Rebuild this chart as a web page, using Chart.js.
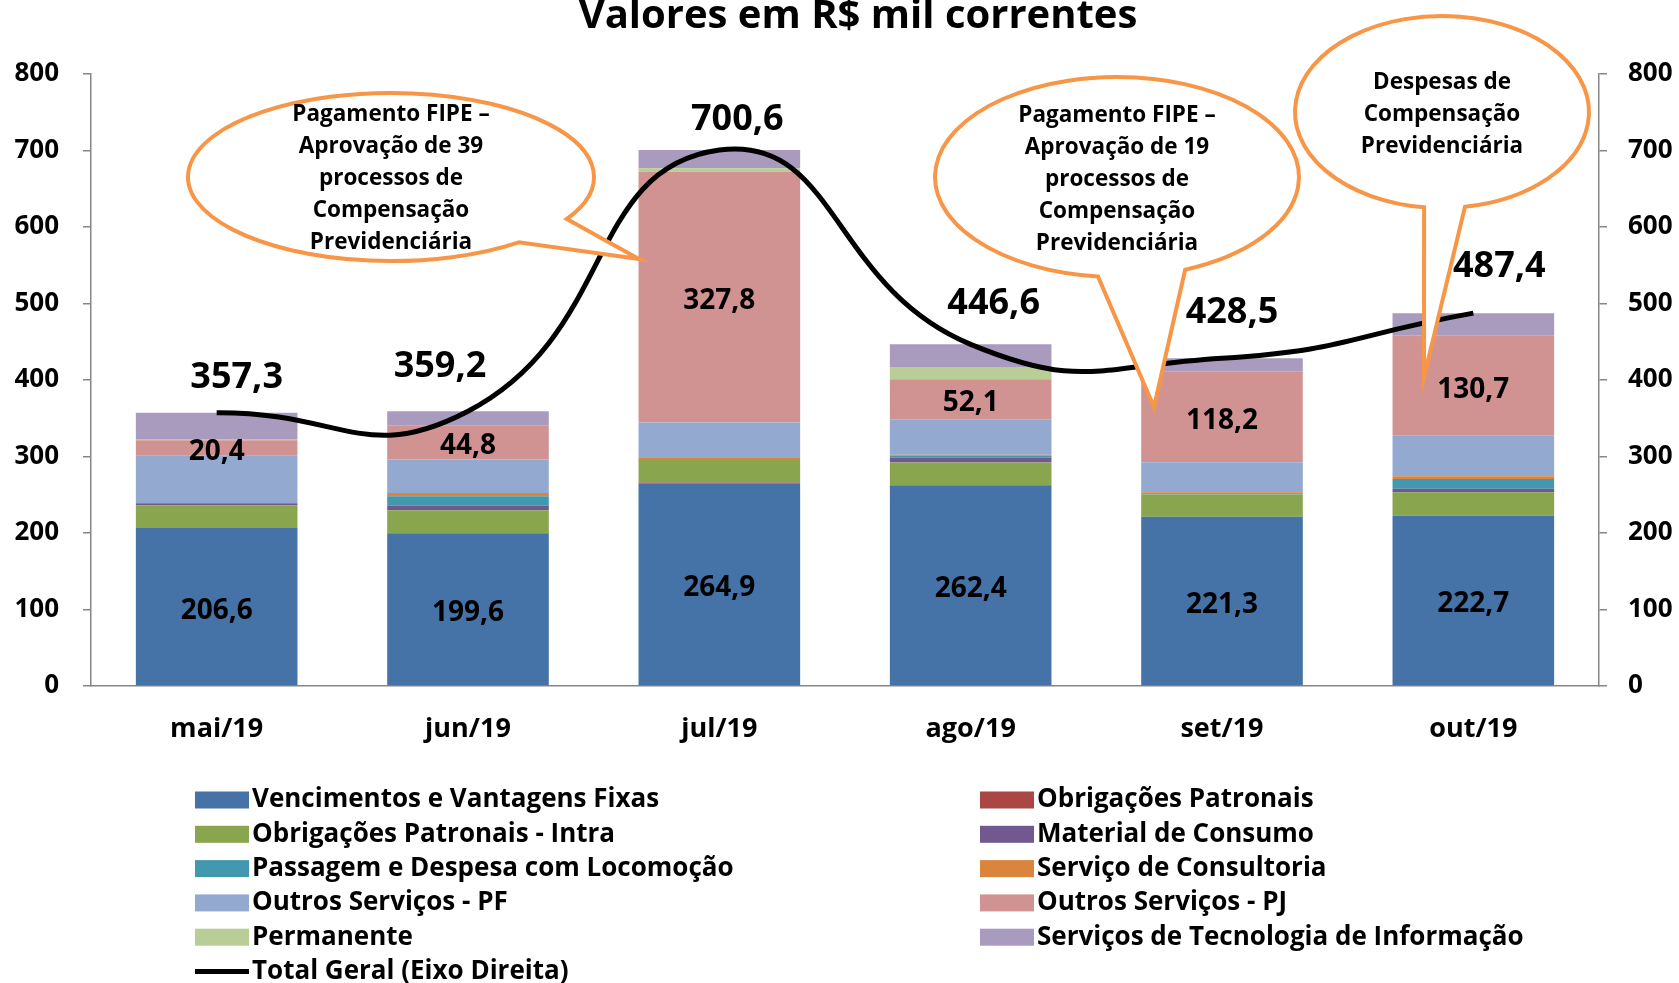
<!DOCTYPE html>
<html>
<head>
<meta charset="utf-8">
<script src="https://cdn.jsdelivr.net/npm/chart.js@4/dist/chart.umd.min.js"></script>
<style>
	body { margin: 0; background: #fff; }
	#wrap { width: 1679px; height: 983px; }
</style>
</head>
<body>
<div id="wrap"><canvas id="c" width="1679" height="983"></canvas></div>
<script>
// Dados (R$ mil correntes)
var months = ['mai/19', 'jun/19', 'jul/19', 'ago/19', 'set/19', 'out/19']
var vencimentos = [206.6, 199.6, 264.9, 262.4, 221.3, 222.7]
var obrigPatronais = [0, 0, 1.1, 0, 0, 0]
var obrigIntra = [29.6, 30.0, 30.8, 29.8, 29.1, 30.5]
var materialConsumo = [2.6, 6.1, 0, 6.5, 0, 4.8]
var passagem = [0, 12.2, 0, 2.2, 1.5, 12.6]
var consultoria = [0, 4.4, 1.2, 1.3, 1.5, 3.5]
var outrosPF = [62.2, 43.8, 46.5, 46.6, 39.2, 53.0]
var outrosPJ = [20.4, 44.8, 327.8, 52.1, 118.2, 130.7]
var permanente = [1.5, 0, 4.4, 16.1, 0, 0]
var tecInfo = [34.4, 18.3, 23.9, 29.6, 17.7, 29.6]
var totalGeral = [357.3, 359.2, 700.6, 446.6, 428.5, 487.4]
var yTicks = [0, 100, 200, 300, 400, 500, 600, 700, 800]

var FONT = '"Open Sans"'
var AXIS = '#868686'
var ORANGE = '#F79646'

function fmt(v) { return v.toFixed(1).replace('.', ',') }

var barSeries = [
	['Vencimentos e Vantagens Fixas', vencimentos, '#4572A7'],
	['Obrigações Patronais', obrigPatronais, '#AA4643'],
	['Obrigações Patronais - Intra', obrigIntra, '#89A54E'],
	['Material de Consumo', materialConsumo, '#71588F'],
	['Passagem e Despesa com Locomoção', passagem, '#4198AF'],
	['Serviço de Consultoria', consultoria, '#DB843D'],
	['Outros Serviços - PF', outrosPF, '#93A9CF'],
	['Outros Serviços - PJ', outrosPJ, '#D19392'],
	['Permanente', permanente, '#B9CD96'],
	['Serviços de Tecnologia de Informação', tecInfo, '#A99BBD'],
]

var datasets = barSeries.map(function (s) {
	return {
		type: 'bar', label: s[0], data: s[1], backgroundColor: s[2],
		stack: 'a', yAxisID: 'y', barPercentage: 0.643, categoryPercentage: 1.0, borderWidth: 0,
	}
})
datasets.push({
	type: 'line', label: 'Total Geral (Eixo Direita)', data: totalGeral, yAxisID: 'y2',
	borderColor: '#000', borderWidth: 5, pointRadius: 0, tension: 0.5, order: -1,
})

// offsets of the total labels from their line point
var totalLabelOffset = [[20, -35], [-28, -44], [18, -30], [23, -41], [10, -45], [26, -46]]

var callouts = [
	{ cx: 391, cy: 177, rx: 203, ry: 84, a1: 30, a2: 51, tip: [639, 259], ty: 115,
		lines: ['Pagamento FIPE –', 'Aprovação de 39', 'processos de', 'Compensação', 'Previdenciária'] },
	{ cx: 1117, cy: 177, rx: 182, ry: 100, a1: 68, a2: 96, tip: [1154, 407], ty: 116,
		lines: ['Pagamento FIPE –', 'Aprovação de 19', 'processos de', 'Compensação', 'Previdenciária'] },
	{ cx: 1442, cy: 112, rx: 147, ry: 96, a1: 81, a2: 97, tip: [1424, 377], ty: 83,
		lines: ['Despesas de', 'Compensação', 'Previdenciária'] },
]

var extras = {
	id: 'extras',
	afterDatasetsDraw: function (chart) {
		var ctx = chart.ctx
		ctx.save()
		ctx.fillStyle = '#000'
		ctx.textAlign = 'center'
		ctx.textBaseline = 'middle'
		// segment labels: Vencimentos and Outros Serviços - PJ
		ctx.font = 'bold 28px ' + FONT
		;[0, 7].forEach(function (di) {
			chart.getDatasetMeta(di).data.forEach(function (el, j) {
				var v = chart.data.datasets[di].data[j]
				ctx.fillText(fmt(v), el.x, (el.y + el.base) / 2 + 4)
			})
		})
		// total labels
		ctx.font = 'bold 36px ' + FONT
		chart.getDatasetMeta(10).data.forEach(function (el, j) {
			var o = totalLabelOffset[j]
			ctx.fillText(fmt(totalGeral[j]), el.x + o[0], el.y + o[1])
		})
		// callouts
		callouts.forEach(function (c) {
			ctx.beginPath()
			ctx.ellipse(c.cx, c.cy, c.rx, c.ry, 0, c.a2 * Math.PI / 180, c.a1 * Math.PI / 180)
			ctx.lineTo(c.tip[0], c.tip[1])
			ctx.closePath()
			ctx.fillStyle = '#fff'
			ctx.fill()
			ctx.lineWidth = 4
			ctx.strokeStyle = ORANGE
			ctx.lineJoin = 'miter'
			ctx.stroke()
			ctx.fillStyle = '#000'
			ctx.font = 'bold 22.5px ' + FONT
			c.lines.forEach(function (t, k) {
				ctx.fillText(t, c.cx, c.ty + k * 32)
			})
		})
		ctx.restore()
	},
	afterDraw: function (chart) {
		var ctx = chart.ctx
		ctx.save()
		// title
		ctx.fillStyle = '#000'
		ctx.textAlign = 'center'
		ctx.textBaseline = 'alphabetic'
		ctx.font = 'bold 40px ' + FONT
		ctx.fillText('Valores em R$ mil correntes', 858, 28)
		// legend
		ctx.textAlign = 'left'
		ctx.textBaseline = 'middle'
		ctx.font = 'bold 26px ' + FONT
		var items = chart.data.datasets
		for (var i = 0; i < items.length; i++) {
			var col = i % 2, row = Math.floor(i / 2)
			var bx = col === 0 ? 195 : 980
			var y = 800 + row * 34.3
			if (items[i].type === 'line') {
				ctx.strokeStyle = '#000'
				ctx.lineWidth = 5
				ctx.beginPath()
				ctx.moveTo(bx, y)
				ctx.lineTo(bx + 54, y)
				ctx.stroke()
			} else {
				ctx.fillStyle = items[i].backgroundColor
				ctx.fillRect(bx, y - 8.5, 54, 17)
			}
			ctx.fillStyle = '#000'
			ctx.fillText(items[i].label, bx + 57, y)
		}
		ctx.restore()
	},
}

var tickFont = { family: FONT, size: 26, weight: 'bold' }

var chart = new Chart(document.getElementById('c').getContext('2d'), {
	data: { labels: months, datasets: datasets },
	options: {
		responsive: false,
		animation: false,
		layout: { padding: { top: 74, left: 0, right: 0, bottom: 0 } },
		plugins: { legend: { display: false }, tooltip: { enabled: false } },
		scales: {
			x: {
				stacked: true,
				grid: { display: false, drawTicks: false },
				border: { color: AXIS, width: 1.5 },
				ticks: { color: '#000', font: { family: FONT, size: 27, weight: 'bold' }, padding: 27 },
				afterFit: function (s) { s.height = 297 },
			},
			y: {
				stacked: true, position: 'left', min: 0, max: 800,
				afterBuildTicks: function (s) { s.ticks = yTicks.map(function (v) { return { value: v } }) },
				grid: { drawOnChartArea: false, tickLength: 8, color: AXIS, lineWidth: 1.5 },
				border: { color: AXIS, width: 1.5 },
				ticks: { color: '#000', font: tickFont, padding: 24 },
				afterFit: function (s) { s.width = 91 },
			},
			y2: {
				position: 'right', min: 0, max: 800,
				afterBuildTicks: function (s) { s.ticks = yTicks.map(function (v) { return { value: v } }) },
				grid: { drawOnChartArea: false, tickLength: 8, color: AXIS, lineWidth: 1.5 },
				border: { color: AXIS, width: 1.5 },
				ticks: { color: '#000', font: tickFont, padding: 21 },
				afterFit: function (s) { s.width = 80 },
			},
		},
	},
	plugins: [extras],
})
</script>
</body>
</html>
